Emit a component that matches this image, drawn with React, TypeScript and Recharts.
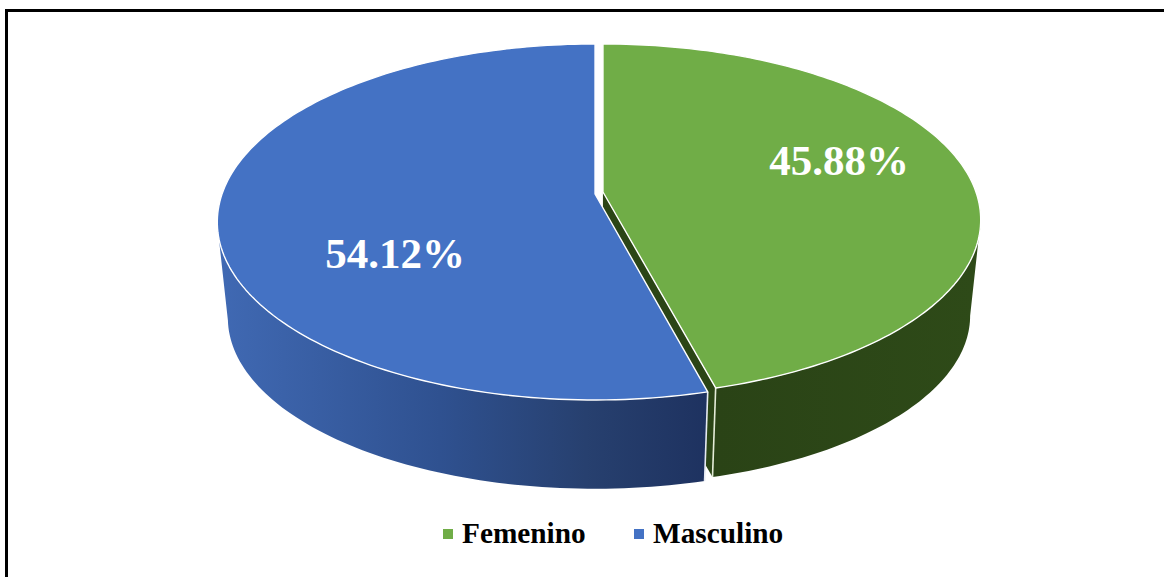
import { Pie, PieChart, Legend } from "recharts";

const names = ["Femenino", "Masculino"];
const shares = [45.88, 54.12];
const colors = ["#70ad47", "#4472c4"];

const tableData = names.map((name, i) => ({ name, value: shares[i], fill: colors[i] }));

// where the two white percentages sit
const labelAt: Record<string, [number, number]> = {
  Femenino: [839, 175],
  Masculino: [395, 268],
};

// the flat pie is tilted, so a point on the circle goes through a perspective map
const VERTEX_Y = 193;
const TOP_K = 373;
const TILT = -0.158;
const DEPTH_A = 172.6;
const FLOOR_SCALE_X = 0.972;
const FLOOR_SCALE_Y = 0.96;
const FLOOR_Y = 290;

function project(angle: number, vx: number, vy: number, sx: number, sy: number, nudge: number) {
  const rad = (angle * Math.PI) / 180;
  const u = Math.cos(rad);
  const v = -Math.sin(rad);
  const d = 1 + TILT * v;
  return [vx + (sx * TOP_K * u) / d, vy + (sy * DEPTH_A * v) / d + (nudge * (1 + v)) / 2];
}

function PerspectiveSector(props: any) {
  const { startAngle, endAngle, midAngle, fill, name } = props;
  const explode = 4;
  const vx = 599 + explode * Math.cos((midAngle * Math.PI) / 180);
  const nudge = name === "Femenino" ? -2 : 2;
  const steps = 160;
  const angles: number[] = [];
  for (let i = 0; i <= steps; i++) angles.push(startAngle + ((endAngle - startAngle) * i) / steps);
  const topPts = angles.map((a) => project(a, vx, VERTEX_Y, 1, 1, nudge));
  const floorPts = angles.map((a) => project(a, vx, FLOOR_Y, FLOOR_SCALE_X, FLOOR_SCALE_Y, nudge));

  // wall runs between the widest points of the ellipse, the back is under the top face
  const frontIdx = angles.map((_, i) => i).filter((i) => Math.sin((angles[i] * Math.PI) / 180) < TILT);
  const wall =
    frontIdx.map((i, n) => `${n ? "L" : "M"}${topPts[i][0]} ${topPts[i][1]}`).join("") +
    [...frontIdx].reverse().map((i) => `L${floorPts[i][0]} ${floorPts[i][1]}`).join("") +
    "Z";
  const topPath = `M${vx} ${VERTEX_Y + nudge / 2}` + topPts.map((p) => `L${p[0]} ${p[1]}`).join("") + "Z";
  const last = topPts[steps];
  const lastFloor = floorPts[steps];
  return (
    <g>
      <path d={wall} fill={name === "Femenino" ? "url(#sideGreen)" : "url(#sideBlue)"} />
      {name === "Femenino" && (
        <path
          d={`M${vx} ${VERTEX_Y + nudge / 2}L${last[0]} ${last[1]}L${lastFloor[0]} ${lastFloor[1]}L${vx} ${FLOOR_Y + nudge / 2}Z`}
          fill="#2b4516"
        />
      )}
      {name === "Femenino" && (
        <path d={`M${last[0]} ${last[1]}L${lastFloor[0]} ${lastFloor[1]}`} stroke="#e4ecd8" strokeWidth={1.6} />
      )}
      {name === "Masculino" && (
        <path d={`M${topPts[0][0]} ${topPts[0][1]}L${floorPts[0][0]} ${floorPts[0][1]}`} stroke="#e6eaf2" strokeWidth={1.6} />
      )}
      <path d={topPath} fill={fill} stroke="#ffffff" strokeWidth={1.4} strokeLinejoin="round" />
    </g>
  );
}

function renderPercent(props: any) {
  const [x, y] = labelAt[props.name];
  return (
    <text
      x={x}
      y={y}
      textAnchor="middle"
      fill="#ffffff"
      fontFamily="'Liberation Serif', serif"
      fontWeight={700}
      fontSize={43}
    >
      {`${props.value.toFixed(2)}%`}
    </text>
  );
}

function LegendRow({ payload }: any) {
  return (
    <div style={{ position: "relative", width: 1164, height: 40 }}>
      {(payload || []).map((entry: any, i: number) => (
        <div key={entry.value} style={{ position: "absolute", left: i === 0 ? 443 : 634, top: 0, display: "flex", alignItems: "center" }}>
          <span style={{ width: 10, height: 10, background: entry.color, marginRight: 9, marginTop: 2 }} />
          <span
            style={{
              fontFamily: "'Liberation Serif', serif",
              fontWeight: 700,
              fontSize: 29.3,
              color: "#000000",
              lineHeight: "32px",
            }}
          >
            {entry.value}
          </span>
        </div>
      ))}
    </div>
  );
}

export default function App() {
  return (
    <div style={{ position: "fixed", left: 0, top: 0, width: 1164, height: 577, overflow: "hidden", background: "#ffffff" }}>
      <div
        style={{
          position: "absolute",
          left: 5,
          top: 9,
          width: 1200,
          height: 600,
          border: "3px solid #000000",
          boxSizing: "border-box",
        }}
      />
      <div style={{ position: "absolute", left: 0, top: 0 }}>
        <PieChart width={1164} height={577} margin={{ top: 0, right: 0, bottom: 0, left: 0 }}>
          <defs>
            <linearGradient id="sideBlue" gradientUnits="userSpaceOnUse" x1="220" y1="0" x2="708" y2="0">
              <stop offset="0%" stopColor="#4069b3" />
              <stop offset="45%" stopColor="#2f5190" />
              <stop offset="75%" stopColor="#27406f" />
              <stop offset="100%" stopColor="#1e3260" />
            </linearGradient>
            <linearGradient id="sideGreen" gradientUnits="userSpaceOnUse" x1="716" y1="0" x2="975" y2="0">
              <stop offset="0%" stopColor="#2a4316" />
              <stop offset="100%" stopColor="#2e4a18" />
            </linearGradient>
          </defs>
          <Pie
            data={tableData}
            dataKey="value"
            nameKey="name"
            cx={599}
            cy={193}
            outerRadius={150}
            startAngle={90}
            endAngle={-270}
            stroke="none"
            shape={PerspectiveSector}
            label={renderPercent}
            labelLine={false}
            isAnimationActive={false}
          />
          <Legend
            content={LegendRow}
            wrapperStyle={{ position: "absolute", left: 0, top: 517, width: 1164 }}
          />
        </PieChart>
      </div>
    </div>
  );
}
